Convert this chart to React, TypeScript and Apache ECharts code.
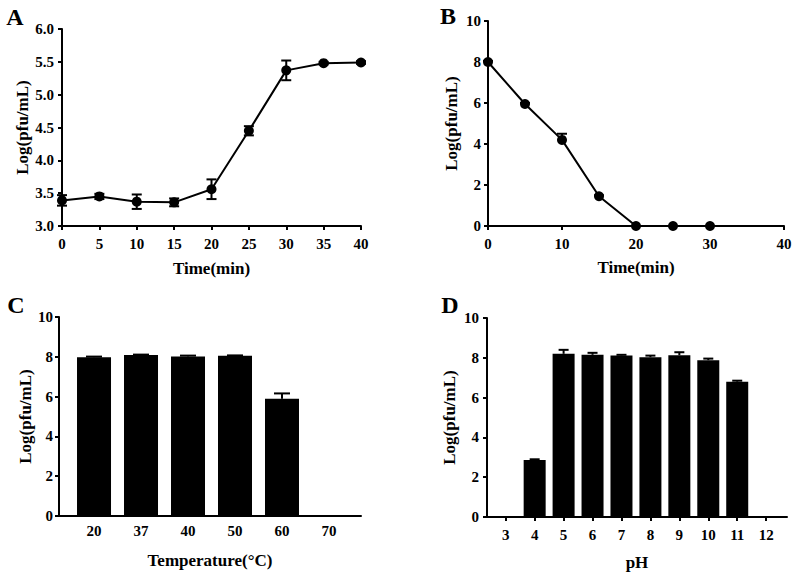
import React, { useEffect, useRef } from "react";
import * as echarts from "echarts";

// Panel A: one-step growth
const timeA = [0, 5, 10, 15, 20, 25, 30, 35, 40];
const valA = [3.39, 3.45, 3.37, 3.36, 3.56, 4.45, 5.37, 5.48, 5.49];
const errA = [0.08, 0.04, 0.11, 0.06, 0.15, 0.07, 0.15, 0.02, 0.02];

// Panel B: inactivation over time
const timeB = [0, 5, 10, 15, 20, 25, 30];
const valB = [8.0, 5.95, 4.2, 1.45, 0, 0, 0];
const errB = [0.05, 0.05, 0.3, 0.05, 0, 0, 0];

// Panel C: temperature stability
const tempCats = ["20", "37", "40", "50", "60", "70"];
const valC = [7.98, 8.09, 8.02, 8.05, 5.89, 0];
const errC = [0.03, 0.02, 0.04, 0.02, 0.27, 0];

// Panel D: pH stability
const phCats = ["3", "4", "5", "6", "7", "8", "9", "10", "11", "12"];
const valD = [0, 2.87, 8.2, 8.15, 8.12, 8.03, 8.13, 7.88, 6.8, 0];
const errD = [0, 0.03, 0.2, 0.1, 0.03, 0.08, 0.15, 0.08, 0.05, 0];

const FONT = "'Liberation Serif', 'DejaVu Serif', serif";
const BLACK = "#000";

const labelStyle = {
  color: BLACK,
  fontFamily: FONT,
  fontWeight: "bold" as const,
  fontSize: 15,
};
const nameStyle = {
  color: BLACK,
  fontFamily: FONT,
  fontWeight: "bold" as const,
  fontSize: 17,
};
const lineStyle = { lineStyle: { color: BLACK, width: 2 } };
const tickStyle = { show: true, length: 4, lineStyle: { color: BLACK, width: 2 } };

function errRender(capW: number, both: boolean) {
  return (params: any, api: any) => {
    const x = api.value(0);
    const y = api.value(1);
    const e = api.value(2);
    if (!e) return null;
    const top = api.coord([x, y + e]);
    const bot = api.coord([x, both ? y - e : y]);
    const style = { stroke: BLACK, lineWidth: 2, fill: "none" };
    const children: any[] = [
      { type: "line", shape: { x1: top[0], y1: top[1], x2: bot[0], y2: bot[1] }, style },
      { type: "line", shape: { x1: top[0] - capW / 2, y1: top[1], x2: top[0] + capW / 2, y2: top[1] }, style },
    ];
    if (both) {
      children.push({
        type: "line",
        shape: { x1: bot[0] - capW / 2, y1: bot[1], x2: bot[0] + capW / 2, y2: bot[1] },
        style,
      });
    }
    return { type: "group", children };
  };
}

function yAxisBase(gridIndex: number, min: number, max: number, interval: number, nameGap: number, margin: number, fmt?: (v: number) => string) {
  return {
    type: "value",
    gridIndex,
    min,
    max,
    interval,
    name: "Log(pfu/mL)",
    nameLocation: "middle",
    nameGap,
    nameTextStyle: nameStyle,
    axisLine: { show: true, onZero: false, ...lineStyle },
    axisTick: tickStyle,
    splitLine: { show: false },
    axisLabel: { ...labelStyle, margin, formatter: fmt },
  };
}

export default function App() {
  const ref = useRef<HTMLDivElement>(null);
  useEffect(() => {
    if (!ref.current) return;
    const chart = echarts.init(ref.current, null, { renderer: "svg" });
    const idxC = tempCats.map((_, i) => i);
    const idxD = phCats.map((_, i) => i);
    const letter = (text: string, x: number, y: number) => ({
      type: "text",
      x,
      y,
      style: { text, font: `bold 24px ${FONT}`, fill: BLACK, align: "center", verticalAlign: "middle" },
    });
    const option: any = {
      animation: false,
      backgroundColor: "#fff",
      grid: [
        { left: 62, top: 29, width: 299, height: 197, containLabel: false, outerBoundsMode: "none" },
        { left: 488, top: 21, width: 296, height: 205, containLabel: false, outerBoundsMode: "none" },
        { left: 59, top: 317, width: 302, height: 199, containLabel: false, outerBoundsMode: "none" },
        { left: 487, top: 318, width: 300, height: 199, containLabel: false, outerBoundsMode: "none" },
      ],
      xAxis: [
        {
          type: "value",
          gridIndex: 0,
          min: 0,
          max: 40,
          interval: 5,
          name: "Time(min)",
          nameLocation: "middle",
          nameGap: 34,
          nameTextStyle: nameStyle,
          axisLine: { show: true, onZero: false, ...lineStyle },
          axisTick: tickStyle,
          splitLine: { show: false },
          axisLabel: { ...labelStyle, margin: 10 },
        },
        {
          type: "value",
          gridIndex: 1,
          min: 0,
          max: 40,
          interval: 10,
          name: "Time(min)",
          nameLocation: "middle",
          nameGap: 33,
          nameTextStyle: nameStyle,
          axisLine: { show: true, onZero: false, ...lineStyle },
          axisTick: tickStyle,
          splitLine: { show: false },
          axisLabel: { ...labelStyle, margin: 10 },
        },
        {
          type: "value",
          gridIndex: 2,
          min: -0.745,
          max: 5.681,
          name: "Temperature(°C)",
          nameLocation: "middle",
          nameGap: 36,
          nameTextStyle: nameStyle,
          axisLine: { show: true, onZero: false, ...lineStyle },
          axisTick: { show: false, customValues: idxC },
          splitLine: { show: false },
          axisLabel: {
            ...labelStyle,
            margin: 7,
            customValues: idxC,
            formatter: (v: number) => tempCats[Math.round(v)] ?? "",
          },
        },
        {
          type: "value",
          gridIndex: 3,
          min: -0.647,
          max: 9.72,
          name: "pH",
          nameLocation: "middle",
          nameGap: 37,
          nameTextStyle: nameStyle,
          axisLine: { show: true, onZero: false, ...lineStyle },
          axisTick: { ...tickStyle, customValues: idxD },
          splitLine: { show: false },
          axisLabel: {
            ...labelStyle,
            margin: 10,
            customValues: idxD,
            formatter: (v: number) => phCats[Math.round(v)] ?? "",
          },
        },
      ],
      yAxis: [
        yAxisBase(0, 3, 6, 0.5, 31, 8, (v: number) => v.toFixed(1)),
        yAxisBase(1, 0, 10, 2, 28, 7),
        yAxisBase(2, 0, 10, 2, 22, 6),
        yAxisBase(3, 0, 10, 2, 29, 8),
      ],
      graphic: [letter("A", 15, 17), letter("B", 448, 16), letter("C", 16, 305), letter("D", 450, 305)],
      series: [
        {
          type: "custom",
          xAxisIndex: 0,
          yAxisIndex: 0,
          renderItem: errRender(10, true),
          encode: { x: 0, y: 1 },
          data: timeA.map((t, i) => [t, valA[i], errA[i]]),
          z: 3,
        },
        {
          type: "line",
          xAxisIndex: 0,
          yAxisIndex: 0,
          data: timeA.map((t, i) => [t, valA[i]]),
          symbol: "circle",
          symbolSize: 10,
          lineStyle: { color: BLACK, width: 2 },
          itemStyle: { color: BLACK },
          z: 4,
        },
        {
          type: "custom",
          xAxisIndex: 1,
          yAxisIndex: 1,
          renderItem: errRender(10, false),
          encode: { x: 0, y: 1 },
          data: timeB.map((t, i) => [t, valB[i], errB[i]]),
          z: 3,
        },
        {
          type: "line",
          xAxisIndex: 1,
          yAxisIndex: 1,
          data: timeB.map((t, i) => [t, valB[i]]),
          symbol: "circle",
          symbolSize: 10,
          lineStyle: { color: BLACK, width: 2 },
          itemStyle: { color: BLACK },
          z: 4,
        },
        {
          type: "bar",
          xAxisIndex: 2,
          yAxisIndex: 2,
          barWidth: 34,
          data: idxC.map((i) => [i, valC[i]]),
          itemStyle: { color: BLACK },
          z: 2,
        },
        {
          type: "custom",
          xAxisIndex: 2,
          yAxisIndex: 2,
          renderItem: errRender(16, false),
          encode: { x: 0, y: 1 },
          data: idxC.map((i) => [i, valC[i], errC[i]]),
          z: 3,
        },
        {
          type: "bar",
          xAxisIndex: 3,
          yAxisIndex: 3,
          barWidth: 22,
          data: idxD.map((i) => [i, valD[i]]),
          itemStyle: { color: BLACK },
          z: 2,
        },
        {
          type: "custom",
          xAxisIndex: 3,
          yAxisIndex: 3,
          renderItem: errRender(10, false),
          encode: { x: 0, y: 1 },
          data: idxD.map((i) => [i, valD[i], errD[i]]),
          z: 3,
        },
      ],
    };
    chart.setOption(option);
    return () => chart.dispose();
  }, []);
  return (
    <div
      ref={ref}
      style={{ position: "absolute", left: 0, top: 0, width: 796, height: 576, background: "#fff" }}
    />
  );
}
